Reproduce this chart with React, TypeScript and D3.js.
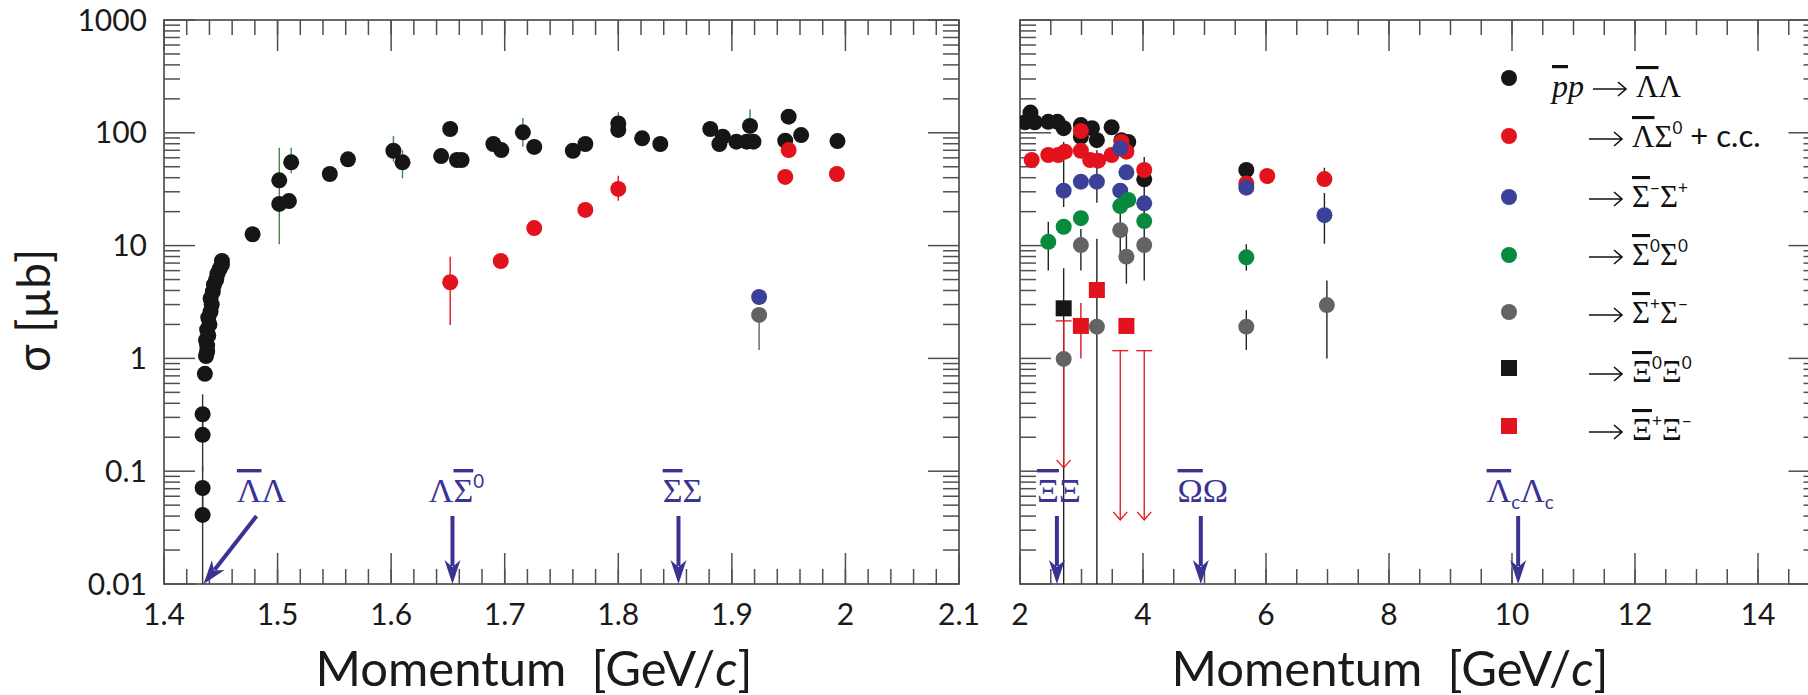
import React, { useRef, useEffect } from 'react';
import * as d3 from 'd3';

// each row: [momentum GeV/c, sigma µb, err low, err high]
type Pt = [number, number, number?, number?];

// ---- left panel, 1.4 - 2.1 GeV/c ----
// points right at the Λ̄Λ threshold
const llThreshold: Pt[] = [
    [1.434, 0.041, 0.005, 0.07], [1.434, 0.071, 0.04, 0.11], [1.434, 0.21, 0.1, 0.3], [1.434, 0.32, 0.2, 0.48],
    [1.436, 0.73],
];
const llLow: Pt[] = [
    [1.437, 1.05], [1.438, 1.15], [1.438, 1.3], [1.437, 1.45], [1.439, 1.6], [1.438, 1.8], [1.44, 2.0],
    [1.439, 2.3], [1.441, 2.6], [1.442, 3.0], [1.441, 3.4], [1.443, 3.9], [1.444, 4.5], [1.446, 5.0],
    [1.447, 5.6], [1.449, 6.2], [1.451, 6.8], [1.451, 7.3],
    [1.478, 12.6], [1.5015, 37.9], [1.5015, 23.4, 10.3, 73.8], [1.51, 24.8], [1.512, 54.7, 43.8, 73.8],
    [1.546, 43.1], [1.562, 58.2], [1.602, 69.3, 55.5, 93.8], [1.61, 54.7, 39.5, 70], [1.644, 62.2],
    [1.652, 108], [1.658, 57.4], [1.662, 57.4], [1.69, 79.6], [1.697, 70.3], [1.716, 101, 75.3, 135],
    [1.726, 74.9], [1.76, 69.3], [1.771, 79.6], [1.8, 106], [1.8, 121, 100, 152], [1.821, 89.3],
    [1.837, 79.6], [1.881, 108], [1.889, 79.6], [1.892, 92.2], [1.904, 83.4], [1.913, 83.4], [1.919, 83.4],
    [1.916, 115, 90, 162], [1.947, 85.1], [1.95, 139], [1.961, 95.5], [1.993, 84.5],
];
const lsLow: Pt[] = [
    [1.652, 4.73, 1.98, 7.98], [1.6965, 7.3], [1.726, 14.3], [1.771, 20.7], [1.8, 31.8, 25, 41.7],
    [1.947, 40.6], [1.95, 70.3], [1.9925, 43.1],
];
const smspLow: Pt[] = [[1.924, 3.5]];
const spsmLow: Pt[] = [[1.924, 2.43, 1.19, 2.43]];

// ---- right panel, 2 - 15 GeV/c ----
const llHigh: Pt[] = [
    [2.08, 124], [2.17, 151], [2.24, 124], [2.46, 125], [2.61, 125], [2.71, 110], [2.99, 117], [2.99, 92],
    [3.17, 110], [3.25, 86], [3.49, 112], [3.65, 86], [3.76, 83], [4.02, 38.7], [5.68, 46.8],
];
const lsHigh: Pt[] = [
    [2.19, 57.4], [2.46, 63.6], [2.62, 63.6], [2.73, 68], [2.99, 104], [2.99, 69.3], [3.14, 57.4],
    [3.27, 56.6], [3.49, 63.6], [3.65, 83], [3.73, 68], [4.02, 46.8], [5.68, 35.6], [6.02, 41.4],
    [6.95, 38.9, 35, 49],
];
const smspHigh: Pt[] = [
    [2.71, 30.7, 22, 83], [2.99, 36.9], [3.25, 36.9, 24, 70], [3.63, 72.8], [3.73, 44.6], [3.63, 30.7],
    [4.02, 23.7, 17, 61], [5.68, 32.6], [6.95, 18.6, 10.4, 29.2],
];
const s0s0High: Pt[] = [
    [2.46, 10.8, 6, 16.3], [2.71, 14.7], [2.99, 17.5], [3.63, 22.4], [3.76, 25.4], [4.02, 16.5],
    [5.68, 7.87, 6, 10.3],
];
const spsmHigh: Pt[] = [
    [2.71, 0.99], [2.99, 10.1, 6, 14], [3.25, 1.91, 0.005, 11.5], [3.63, 13.7, 8.6, 20], [3.73, 7.98, 4.6, 13],
    [4.02, 10.1, 4.9, 20], [5.68, 1.91, 1.19, 2.68], [6.99, 2.97, 1.0, 4.9],
];
const x0x0High: Pt[] = [[2.71, 2.78, 0.005, 6.3]];
const xpxmHigh: Pt[] = [[2.99, 1.94, 1.0, 3.1], [3.25, 4.04], [3.73, 1.94]];
// upper limits: [momentum, limit, arrow end]
const xpxmLimits: [number, number, number][] = [[2.71, 2.15, 0.107], [3.63, 1.17, 0.037], [4.02, 1.17, 0.037]];

// axes
const yTicks = [0.01, 0.1, 1, 10, 100, 1000];
const xTicksLow = [1.4, 1.5, 1.6, 1.7, 1.8, 1.9, 2.0, 2.1];
const xTicksHigh = [2, 4, 6, 8, 10, 12, 14];

// thresholds
type Part = { t: string; bar?: boolean; sup?: boolean; sub?: boolean; sans?: boolean; it?: boolean };
const thresholdsLow: { p: number; label: Part[] }[] = [
    { p: 1.4348, label: [{ t: 'Λ', bar: true }, { t: 'Λ' }] },
    { p: 1.654, label: [{ t: 'Λ' }, { t: 'Σ', bar: true }, { t: '0', sup: true }] },
    { p: 1.853, label: [{ t: 'Σ', bar: true }, { t: 'Σ' }] },
];
const thresholdsHigh: { p: number; label: Part[] }[] = [
    { p: 2.6, label: [{ t: 'Ξ', bar: true }, { t: 'Ξ' }] },
    { p: 4.94, label: [{ t: 'Ω', bar: true }, { t: 'Ω' }] },
    { p: 10.1, label: [{ t: 'Λ', bar: true }, { t: 'c', sub: true }, { t: 'Λ' }, { t: 'c', sub: true }] },
];

const legendLabels: Part[][] = [
    [{ t: 'Λ', bar: true }, { t: 'Λ' }],
    [{ t: 'Λ', bar: true }, { t: 'Σ' }, { t: '0', sup: true }, { t: ' + c.c.', sans: true }],
    [{ t: 'Σ', bar: true }, { t: '−', sup: true }, { t: 'Σ' }, { t: '+', sup: true }],
    [{ t: 'Σ', bar: true }, { t: '0', sup: true }, { t: 'Σ' }, { t: '0', sup: true }],
    [{ t: 'Σ', bar: true }, { t: '+', sup: true }, { t: 'Σ' }, { t: '−', sup: true }],
    [{ t: 'Ξ', bar: true }, { t: '0', sup: true }, { t: 'Ξ' }, { t: '0', sup: true }],
    [{ t: 'Ξ', bar: true }, { t: '+', sup: true }, { t: 'Ξ' }, { t: '−', sup: true }],
];

const SANS = 'Lato, "Open Sans", "DejaVu Sans", sans-serif';
const SERIF = '"Liberation Serif", "DejaVu Serif", serif';
const C = {
    black: '#161616', red: '#e2131c', blue: '#3b4199', green: '#088a3e', gray: '#636363',
    thr: '#3a3392', frame: '#505050', errGreen: '#3b8a4a',
};

function addParts(text: any, parts: Part[], size: number) {
    let shift = 0;
    parts.forEach(p => {
        const target = p.sup ? -0.42 * size : p.sub ? 0.22 * size : 0;
        const ts = text.append('tspan').attr('dy', target - shift).text(p.t);
        shift = target;
        if (p.sup || p.sub) ts.attr('font-size', size * 0.55).attr('font-family', SANS);
        if (p.sans) ts.attr('font-family', SANS).style('white-space', 'pre');
        if (p.it) ts.attr('font-style', 'italic');
        if (p.bar) ts.style('text-decoration', 'overline');
    });
}

const App = () => {
    const ref = useRef<SVGSVGElement>(null);

    useEffect(() => {
        const svg = d3.select(ref.current);
        svg.selectAll('*').remove();

        const y = d3.scaleLog().domain([0.01, 1000]).range([584, 20]);
        const xL = d3.scaleLinear().domain([1.4, 2.1]).range([164, 959]);
        const xR = d3.scaleLinear().domain([2, 15]).range([1020, 1819.5]);

        const yMinor: number[] = [];
        yTicks.slice(0, -1).forEach(d => d3.range(2, 10).forEach(k => yMinor.push(d * k)));

        const defs = svg.append('defs');

        // frame + ticks for one panel
        const drawFrame = (x: any, id: string, majors: number[], minorStep: number) => {
            const [x0, x1] = x.range();
            const [yb, yt] = y.range();
            defs.append('clipPath').attr('id', id).append('rect')
                .attr('x', x0).attr('y', yt).attr('width', x1 - x0).attr('height', yb - yt);
            const g = svg.append('g').attr('stroke', C.frame).attr('stroke-width', 1.5).attr('fill', 'none');
            const [d0, d1] = x.domain();
            const minors = d3.range(Math.round((d1 - d0) / minorStep) + 1).map(i => d0 + i * minorStep);
            const tick = (xx: number, len: number) => {
                g.append('line').attr('x1', xx).attr('x2', xx).attr('y1', yb).attr('y2', yb - len);
                g.append('line').attr('x1', xx).attr('x2', xx).attr('y1', yt).attr('y2', yt + len);
            };
            minors.forEach(v => tick(x(v), 15));
            majors.forEach(v => tick(x(v), 31));
            const ytick = (yy: number, len: number) => {
                g.append('line').attr('x1', x0).attr('x2', x0 + len).attr('y1', yy).attr('y2', yy);
                g.append('line').attr('x1', x1).attr('x2', x1 - len).attr('y1', yy).attr('y2', yy);
            };
            yMinor.forEach(v => ytick(y(v), 16));
            yTicks.forEach(v => ytick(y(v), 31));
            g.append('rect').attr('x', x0).attr('y', yt).attr('width', x1 - x0).attr('height', yb - yt)
                .attr('stroke-width', 1.7);

            // x tick labels
            svg.append('g').selectAll('text').data(majors).enter().append('text')
                .attr('x', d => x(d)).attr('y', 625)
                .attr('text-anchor', 'middle')
                .style('font-family', SANS).style('font-size', '30px').style('fill', '#1a1a1a')
                .text(d => String(+d.toFixed(1)));

            // axis title
            const t = svg.append('text').attr('x', x0 + 370).attr('y', 686)
                .attr('text-anchor', 'middle')
                .style('font-family', SANS).style('font-size', '49px').style('fill', '#1a1a1a')
                .style('white-space', 'pre');
            t.append('tspan').text('Momentum  [GeV/');
            t.append('tspan').attr('font-style', 'italic').text('c');
            t.append('tspan').text(']');
        };

        drawFrame(xL, 'clipL', xTicksLow, 0.02);
        drawFrame(xR, 'clipR', xTicksHigh, 0.5);

        // y tick labels (left panel only)
        svg.append('g').selectAll('text').data(yTicks).enter().append('text')
            .attr('x', 147).attr('y', d => y(d) + 10.5)
            .attr('text-anchor', 'end')
            .style('font-family', SANS).style('font-size', '30px').style('fill', '#1a1a1a')
            .text(d => String(d));

        // y axis title
        svg.append('text')
            .attr('transform', 'translate(50,372) rotate(-90)')
            .attr('text-anchor', 'start')
            .style('font-family', SANS).style('font-size', '46px').style('fill', '#1a1a1a')
            .text('σ [µb]');

        // data
        const series = (x: any, clip: string, data: Pt[], color: string, errColor: string, square = false) => {
            const g = svg.append('g').attr('clip-path', `url(#${clip})`);
            data.filter(d => d[2] != null).forEach(d => {
                g.append('line').attr('x1', x(d[0])).attr('x2', x(d[0]))
                    .attr('y1', y(Math.max(d[2] as number, 0.001))).attr('y2', y(d[3] as number))
                    .attr('stroke', errColor).attr('stroke-width', 1.4);
            });
            return () => {
                const m = svg.append('g').attr('clip-path', `url(#${clip})`);
                if (square) {
                    m.selectAll('rect').data(data).enter().append('rect')
                        .attr('x', d => x(d[0]) - 8).attr('y', d => y(d[1]) - 8)
                        .attr('width', 16).attr('height', 16).attr('fill', color);
                } else {
                    m.selectAll('circle').data(data).enter().append('circle')
                        .attr('cx', d => x(d[0])).attr('cy', d => y(d[1])).attr('r', 8).attr('fill', color);
                }
            };
        };

        const markers = [
            series(xL, 'clipL', llThreshold, C.black, '#333'),
            series(xL, 'clipL', llLow, C.black, C.errGreen),
            series(xL, 'clipL', lsLow, C.red, C.red),
            series(xL, 'clipL', smspLow, C.blue, C.blue),
            series(xL, 'clipL', spsmLow, C.gray, C.gray),
            series(xR, 'clipR', llHigh, C.black, '#222'),
            series(xR, 'clipR', lsHigh, C.red, '#222'),
            series(xR, 'clipR', smspHigh, C.blue, '#222'),
            series(xR, 'clipR', s0s0High, C.green, '#222'),
            series(xR, 'clipR', spsmHigh, C.gray, '#222'),
            series(xR, 'clipR', x0x0High, C.black, '#222', true),
            series(xR, 'clipR', xpxmHigh, C.red, C.red, true),
        ];

        // upper limits
        const lim = svg.append('g').attr('stroke', C.red).attr('stroke-width', 1.3).attr('fill', 'none');
        xpxmLimits.forEach(([p, top, end]) => {
            const xx = xR(p);
            lim.append('line').attr('x1', xx - 8).attr('x2', xx + 8).attr('y1', y(top)).attr('y2', y(top));
            lim.append('line').attr('x1', xx).attr('x2', xx).attr('y1', y(top)).attr('y2', y(end));
            lim.append('path').attr('d', `M${xx - 7},${y(end) - 8}L${xx},${y(end)}L${xx + 7},${y(end) - 8}`);
        });

        markers.forEach(f => f());

        // threshold arrows
        const arrow = (sx: number, sy: number, tx: number, ty: number) => {
            const ang = Math.atan2(ty - sy, tx - sx);
            const ux = Math.cos(ang), uy = Math.sin(ang);
            const px = -uy, py = ux;
            const hl = 24, hw = 8;
            svg.append('line').attr('x1', sx).attr('y1', sy)
                .attr('x2', tx - ux * (hl - 6)).attr('y2', ty - uy * (hl - 6))
                .attr('stroke', C.thr).attr('stroke-width', 4);
            const bx = tx - ux * hl, by = ty - uy * hl;
            const nx = tx - ux * (hl - 7), ny = ty - uy * (hl - 7);
            svg.append('path')
                .attr('d', `M${tx},${ty}L${bx + px * hw},${by + py * hw}L${nx},${ny}L${bx - px * hw},${by - py * hw}Z`)
                .attr('fill', C.thr);
        };
        const thresholds = (x: any, list: { p: number; label: Part[] }[], diagonal: boolean) => {
            list.forEach((t, i) => {
                const tx = x(t.p), ty = y(0.01);
                const diag = diagonal && i === 0;
                arrow(diag ? tx + 53 : tx, ty - 68, tx, ty);
                const lab = svg.append('text')
                    .attr('x', diag ? tx + 58 : tx + (diagonal ? 4 : 2)).attr('y', 502)
                    .attr('text-anchor', 'middle')
                    .style('font-family', SERIF).style('font-size', '34px').style('fill', C.thr);
                addParts(lab, t.label, 34);
            });
        };
        thresholds(xL, thresholdsLow, true);
        thresholds(xR, thresholdsHigh, false);

        // legend
        const legendMarks = [
            { c: C.black, sq: false }, { c: C.red, sq: false }, { c: C.blue, sq: false }, { c: C.green, sq: false },
            { c: C.gray, sq: false }, { c: C.black, sq: true }, { c: C.red, sq: true },
        ];
        const markY = [78, 136, 197, 255, 312, 368, 426];
        const baseY = [97, 147, 207, 265, 323, 382, 440];
        const lg = svg.append('g');
        legendLabels.forEach((parts, i) => {
            const m = legendMarks[i];
            if (m.sq) {
                lg.append('rect').attr('x', 1501).attr('y', markY[i] - 8).attr('width', 16).attr('height', 16).attr('fill', m.c);
            } else {
                lg.append('circle').attr('cx', 1509).attr('cy', markY[i]).attr('r', 8).attr('fill', m.c);
            }
            const ax = i === 0 ? 1593 : 1589;
            const ay = baseY[i] - 8;
            lg.append('path')
                .attr('d', `M${ax},${ay}H${ax + 33}M${ax + 25},${ay - 7}L${ax + 33},${ay}L${ax + 25},${ay + 7}`)
                .attr('stroke', '#111').attr('stroke-width', 1.6).attr('fill', 'none');
            const tx = lg.append('text').attr('x', ax + 43).attr('y', baseY[i])
                .style('font-family', SERIF).style('font-size', '31px').style('fill', '#111');
            addParts(tx, parts, 31);
        });
        const pp = lg.append('text').attr('x', 1584).attr('y', 97).attr('text-anchor', 'end')
            .style('font-family', SERIF).style('font-size', '32px').style('font-style', 'italic').style('fill', '#111');
        addParts(pp, [{ t: 'p', bar: true }, { t: 'p' }], 32);
    }, []);

    return (
        <svg ref={ref} width={1808} height={695}
            style={{ position: 'absolute', left: 0, top: 0, background: '#fff' }}></svg>
    );
};

export default App;
